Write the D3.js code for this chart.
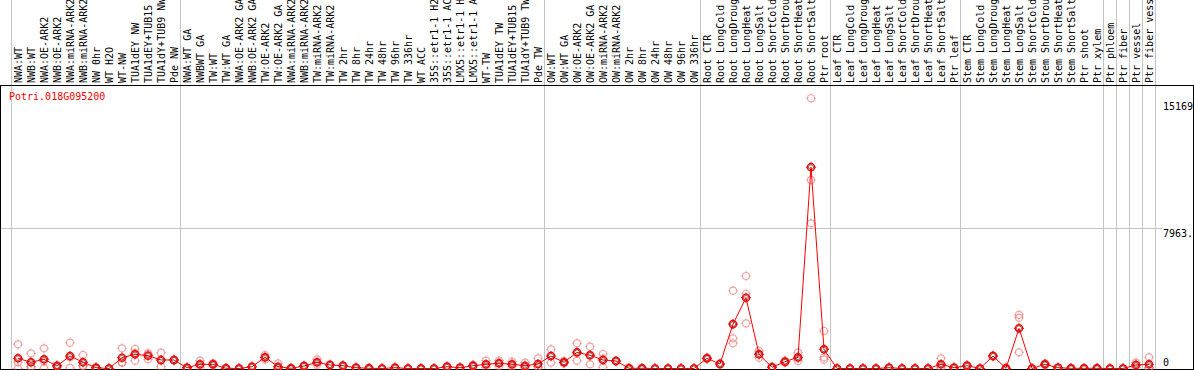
<!DOCTYPE html>
<html>
<head>
<meta charset="utf-8">
<script src="https://cdn.jsdelivr.net/npm/d3@7"></script>
<style>
    html, body { margin: 0; padding: 0; background: #fff; }
    svg { display: block; }
    text { font-family: 'DejaVu Sans Mono', monospace; font-size: 10px; }
</style>
</head>
<body>
<svg id="chart" width="1194" height="370"></svg>
<script>
var geneName = 'Potri.018G095200';

// sample names as far as the header shows them
var samples = [
    'NWA:WT', 'NWB:WT', 'NWA:OE-ARK2', 'NWB:OE-ARK2', 'NWA:miRNA-ARK2', 'NWB:miRNA-ARK2',
    'NW 0hr', 'WT H2O', 'WT-NW', 'TUA1dEY NW', 'TUA1dEY+TUB15', 'TUA1dY+TUB9 NW', 'Pde NW',
    'NWA:WT GA', 'NWBWT GA', 'TW:WT', 'TW:WT GA', 'NWA:OE-ARK2 GA', 'NWB:OE-ARK2 GA',
    'TW:OE-ARK2', 'TW:OE-ARK2 GA', 'NWA:miRNA-ARK2', 'NWB:miRNA-ARK2', 'TW:miRNA-ARK2',
    'TW:miRNA-ARK2', 'TW 2hr', 'TW 8hr', 'TW 24hr', 'TW 48hr', 'TW 96hr', 'TW 336hr',
    'WT ACC', '35S::etr1-1 H2', '35S::etr1-1 AC', 'LMX5::etr1-1 H', 'LMX5::etr1-1 A',
    'WT-TW', 'TUA1dEY TW', 'TUA1dEY+TUB15', 'TUA1dY+TUB9 TW', 'Pde TW',
    'OW:WT', 'OW:WT GA', 'OW:OE-ARK2', 'OW:OE-ARK2 GA', 'OW:miRNA-ARK2', 'OW:miRNA-ARK2',
    'OW 2hr', 'OW 8hr', 'OW 24hr', 'OW 48hr', 'OW 96hr', 'OW 336hr',
    'Root CTR', 'Root LongCold', 'Root LongDroug', 'Root LongHeat', 'Root LongSalt',
    'Root ShortCold', 'Root ShortDrou', 'Root ShortHeat', 'Root ShortSalt', 'Ptr root',
    'Leaf CTR', 'Leaf LongCold', 'Leaf LongDroug', 'Leaf LongHeat', 'Leaf LongSalt',
    'Leaf ShortCold', 'Leaf ShortDrou', 'Leaf ShortHeat', 'Leaf ShortSalt', 'Ptr leaf',
    'Stem CTR', 'Stem LongCold', 'Stem LongDroug', 'Stem LongHeat', 'Stem LongSalt',
    'Stem ShortCold', 'Stem ShortDrou', 'Stem ShortHeat', 'Stem ShortSalt', 'Ptr shoot',
    'Ptr xylem', 'Ptr phloem', 'Ptr fiber', 'Ptr vessel', 'Ptr fiber vess'
];

// mean expression per sample (dark markers, joined by the line)
var means = [
    579, 352, 523, 142, 710, 352, 45, 0, 613, 807, 727, 483, 483,
    45, 239, 239, 11, 0, 102, 636, 102, 11, 142, 352, 199, 159, 45, 11, 0, 45, 0, 0, 0, 102, 45, 159, 239, 295, 239, 159, 256,
    710, 352, 920, 750, 483, 426, 11, 11, 0, 0, 0, 0,
    579, 256, 2522, 4018, 807, 68, 386, 636, 11434, 1091,
    0, 0, 0, 0, 45, 0, 0, 0, 239, 45,
    159, 0, 710, 11, 2283, 0, 239, 45, 11, 11, 11,
    0, 0, 199, 239
];

// replicates (pale markers)
var rep1 = [
    1375, 863, 1147, 200, 1465, 767, 80, 0, 1147, 1108, 863, 897, 520,
    60, 443, 295, 20, 0, 120, 767, 295, 20, 170, 523, 230, 180, 60, 20, 0, 60, 0, 0, 0, 130, 60, 210, 443, 443, 386, 330, 579,
    1090, 420, 1431, 1238, 824, 450, 20, 20, 0, 0, 0, 0,
    620, 280, 4419, 5254, 994, 100, 443, 897, 15347, 2130,
    0, 0, 0, 0, 60, 0, 0, 0, 579, 60,
    200, 0, 750, 20, 3050, 0, 295, 60, 20, 20, 20,
    0, 0, 330, 636
];
var rep2 = [
    352, 102, 400, 150, 635, 150, 40, 0, 362, 870, 795, 450, 480,
    50, 200, 240, 10, 0, 100, 630, 10, 10, 140, 330, 200, 160, 45, 10, 0, 45, 0, 0, 0, 100, 45, 160, 200, 300, 210, 100, 120,
    710, 350, 886, 773, 557, 426, 10, 10, 0, 0, 0, 0,
    579, 256, 1715, 4232, 807, 68, 386, 579, 10707, 636,
    0, 0, 0, 0, 45, 0, 0, 0, 100, 45,
    159, 0, 710, 10, 2880, 0, 239, 45, 10, 10, 10,
    0, 0, 199, 60
];
var rep3 = [
    0, 90, 20, 80, 30, 140, 15, 0, 330, 443, 523, 102, 450,
    25, 75, 182, 5, 0, 86, 511, 0, 5, 115, 205, 170, 140, 30, 5, 0, 30, 0, 0, 0, 75, 30, 110, 75, 140, 120, 50, 70,
    330, 290, 443, 239, 68, 400, 5, 5, 0, 0, 0, 0,
    540, 230, 1431, 2567, 614, 36, 330, 432, 8247, 507,
    0, 0, 0, 0, 30, 0, 0, 0, 38, 30,
    118, 0, 670, 5, 920, 0, 183, 30, 5, 5, 5,
    0, 0, 68, 20
];

var groupBreaks = [0, 13, 41, 53, 63, 73, 84, 85, 86, 87, 88];
var tickValues = [0, 7963, 15169];
var tickLabels = ['0', '7963.', '15169'];

(function(){
    'use strict';

    var svg = d3.select( '#chart' ),
        width = 1194,
        headerY = 85.5,
        bottomY = 369.5,
        x = d3.scaleBand().domain( d3.range( samples.length ) ).range( [11.5, 1155.5] ),
        y = d3.scaleLinear().domain( [0, 15169] ).range( [368.5, 101.4] ),
        cx = function( i ){ return x( i ) + x.bandwidth() / 2; },
        edge = function( k ){ return 11.5 + k * x.bandwidth(); },
        reps = [rep1, rep2, rep3],
        grid = svg.append( 'g' ).attr( 'shape-rendering', 'crispEdges' );

    // group separators run through the header too
    grid.selectAll( 'line.sep' )
        .data( groupBreaks )
        .enter().append( 'line' )
        .attr( 'class', 'sep' )
        .attr( 'x1', edge ).attr( 'x2', edge )
        .attr( 'y1', 0 ).attr( 'y2', bottomY )
        .attr( 'stroke', '#c4c4c4' );

    // mid tick gets a grey rule
    grid.append( 'line' )
        .attr( 'x1', 0 ).attr( 'x2', 1162 )
        .attr( 'y1', Math.round( y( tickValues[1] ) ) + 0.5 )
        .attr( 'y2', Math.round( y( tickValues[1] ) ) + 0.5 )
        .attr( 'stroke', '#c4c4c4' );

    grid.append( 'line' )
        .attr( 'x1', 0 ).attr( 'x2', width )
        .attr( 'y1', headerY ).attr( 'y2', headerY )
        .attr( 'stroke', '#000' );

    grid.append( 'path' )
        .attr( 'd', 'M0.5,' + headerY + 'V' + bottomY + 'H' + ( width - 0.5 ) + 'V' + headerY )
        .attr( 'fill', 'none' )
        .attr( 'stroke', '#000' );

    // rotated sample names
    svg.append( 'g' ).selectAll( 'text' )
        .data( samples )
        .enter().append( 'text' )
        .attr( 'transform', function( d, i ){
            return 'translate(' + ( cx( i ) + 3.5 ) + ',83) rotate(-90)';
        })
        .attr( 'fill', '#000' )
        .text( function( d ){ return d; } );

    // value labels on the right
    svg.append( 'g' ).selectAll( 'text' )
        .data( tickValues )
        .enter().append( 'text' )
        .attr( 'x', 1163 )
        .attr( 'y', function( d ){ return Math.min( y( d ) + 9, 366 ); } )
        .attr( 'fill', '#000' )
        .text( function( d, i ){ return tickLabels[i]; } );

    svg.append( 'text' )
        .attr( 'x', 9 )
        .attr( 'y', 100 )
        .attr( 'fill', '#ff0000' )
        .text( geneName );

    var marker = function( sel, color, r, w ){
        sel.append( 'circle' )
            .attr( 'r', r )
            .attr( 'fill', 'none' )
            .attr( 'stroke', color )
            .attr( 'stroke-width', w );
        sel.append( 'path' )
            .attr( 'd', 'M' + ( -r - 1.5 ) + ',0h1.5M' + r + ',0h1.5M0,' + ( -r - 1.5 ) + 'v1.5M0,' + r + 'v1.5' )
            .attr( 'stroke', color )
            .attr( 'stroke-width', 1 );
    };

    var pts = [];
    reps.forEach( function( rep ){
        rep.forEach( function( v, i ){ pts.push( { i: i, v: v } ); } );
    });

    svg.append( 'g' ).selectAll( 'g' )
        .data( pts )
        .enter().append( 'g' )
        .attr( 'transform', function( d ){ return 'translate(' + cx( d.i ) + ',' + y( d.v ) + ')'; } )
        .call( marker, 'rgba(235,100,100,0.55)', 3.5, 1.2 );

    svg.append( 'path' )
        .datum( means )
        .attr( 'fill', 'none' )
        .attr( 'stroke', '#ff0000' )
        .attr( 'stroke-width', 1 )
        .attr( 'd', d3.line()
            .x( function( d, i ){ return cx( i ); } )
            .y( function( d ){ return y( d ); } ) );

    var meanG = svg.append( 'g' ).selectAll( 'g' )
        .data( means )
        .enter().append( 'g' )
        .attr( 'transform', function( d, i ){ return 'translate(' + cx( i ) + ',' + y( d ) + ')'; } );

    meanG.call( marker, '#ff0000', 3.6, 1.4 );
    meanG.append( 'circle' )
        .attr( 'r', 2.5 )
        .attr( 'fill', 'none' )
        .attr( 'stroke', '#400' )
        .attr( 'stroke-width', 0.6 );
})();
</script>
</body>
</html>
